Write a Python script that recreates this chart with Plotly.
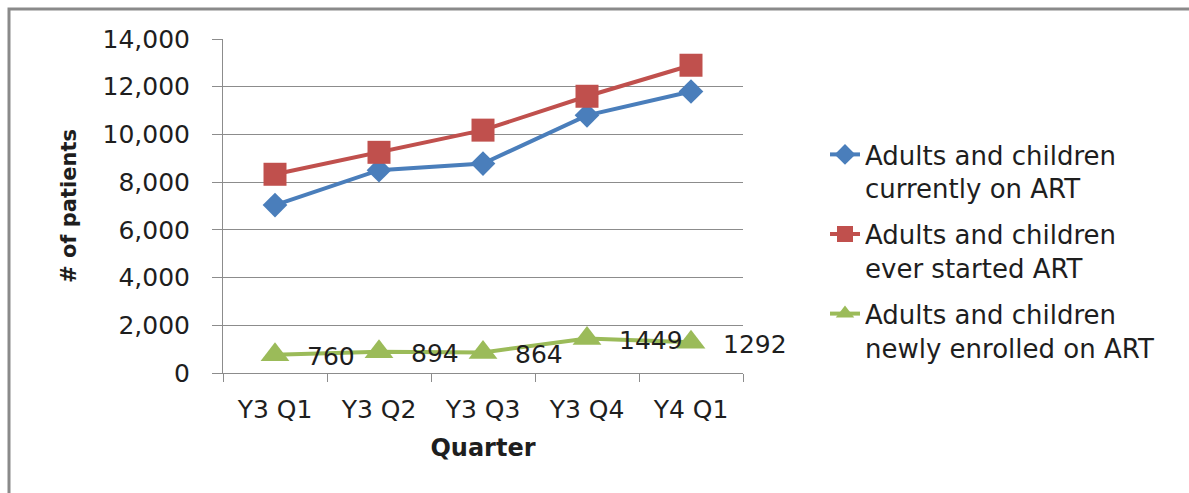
import plotly.graph_objects as go

# Quarterly ART patient counts
quarters = ["Y3 Q1", "Y3 Q2", "Y3 Q3", "Y3 Q4", "Y4 Q1"]
currently_on_art = [7040, 8500, 8780, 10800, 11800]
ever_started_art = [8330, 9250, 10180, 11600, 12900]
newly_enrolled = [760, 894, 864, 1449, 1292]

series_names = [
    "Adults and children<br>currently on ART",
    "Adults and children<br>ever started ART",
    "Adults and children<br>newly enrolled on ART",
]
y_ticks = [0, 2000, 4000, 6000, 8000, 10000, 12000, 14000]

FONT = "DejaVu Sans"
TEXT = "#1e1e1e"
GRID = "#8c8c8c"

W, H = 1189, 493
PL, PR, PT, PB = 223, 743, 39, 373  # plot area in pixels

fig = go.Figure()
styles = [
    ("#4a7ebb", "diamond", 19),
    ("#c0504d", "square", 23),
    ("#9bbb59", "triangle-up", 25),
]
for i, (vals, name, (col, sym, sz)) in enumerate(
    zip([currently_on_art, ever_started_art, newly_enrolled], series_names, styles)
):
    fig.add_trace(go.Scatter(
        x=quarters, y=vals, name=name, mode="lines+markers",
        line=dict(color=col, width=4),
        marker=dict(symbol=sym, size=sz, color=col),
        legendgroup=f"g{i}",
    ))

# value labels for the newly enrolled series
for q, v in zip(quarters, newly_enrolled):
    fig.add_annotation(
        x=q, y=v, text=str(v), showarrow=False,
        xanchor="left", yanchor="middle", xshift=30, yshift=-2,
        font=dict(family=FONT, size=25, color=TEXT),
    )

# chart frame (left and top edges)
def px_to_paper_x(px):
    return (px - PL) / (PR - PL)

def px_to_paper_y(py):
    return (PB - py) / (PB - PT)

fx0, fy0 = px_to_paper_x(9), px_to_paper_y(9)
fx1, fy1 = px_to_paper_x(W + 20), px_to_paper_y(H + 20)
fig.add_shape(
    type="path", xref="paper", yref="paper",
    path=f"M{fx0},{fy1} L{fx0},{fy0} L{fx1},{fy0}",
    line=dict(color="#8a8a8a", width=3),
)

fig.update_layout(
    width=W, height=H,
    margin=dict(l=PL, r=W - PR, t=PT, b=H - PB),
    paper_bgcolor="white", plot_bgcolor="white",
    font=dict(family=FONT, size=25, color=TEXT),
    showlegend=True,
    legend=dict(
        x=px_to_paper_x(825), y=px_to_paper_y(131),
        xanchor="left", yanchor="top",
        valign="top", traceorder="grouped", tracegroupgap=9,
        font=dict(family=FONT, size=26, color=TEXT),
        itemwidth=30, bgcolor="rgba(0,0,0,0)",
    ),
    xaxis=dict(
        type="category", tickson="boundaries", range=[-0.5, 4.5],
        showgrid=False, showline=True, linecolor=GRID, linewidth=1,
        ticks="outside", ticklen=8, tickcolor=GRID,
        ticklabelstandoff=14,
        tickfont=dict(family=FONT, size=25, color=TEXT),
        title=dict(text="<b>Quarter</b>", standoff=16,
                   font=dict(family=FONT, size=24, color=TEXT)),
    ),
    yaxis=dict(
        range=[0, 14000], tickvals=y_ticks, tickformat=",d",
        showgrid=True, gridcolor=GRID, gridwidth=1,
        showline=True, linecolor=GRID, linewidth=1, zeroline=False,
        ticks="outside", ticklen=10, tickcolor=GRID,
        ticklabelstandoff=17,
        tickfont=dict(family=FONT, size=25, color=TEXT),
        title=dict(text="<b># of patients</b>", standoff=20,
                   font=dict(family=FONT, size=21, color=TEXT)),
    ),
)

fig.write_html("out.html")
